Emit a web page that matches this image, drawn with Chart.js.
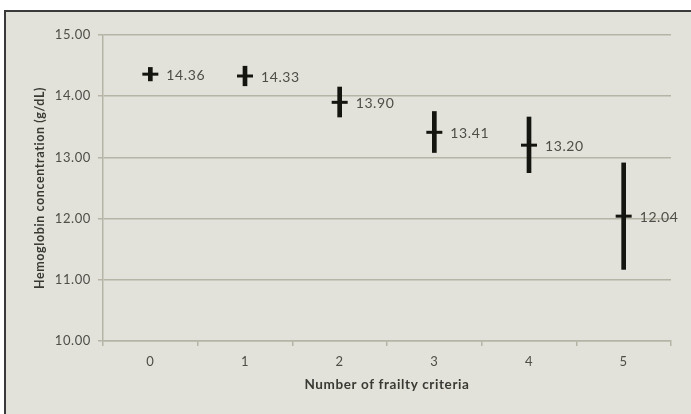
<!DOCTYPE html>
<html>
<head>
<meta charset="utf-8">
<script src="https://cdn.jsdelivr.net/npm/chart.js@4/dist/chart.umd.min.js"></script>
<style>
  html, body { margin: 0; padding: 0; background: #ffffff; }
  #frame { position: absolute; left: 4px; top: 10px; width: 687px; height: 404px;
           background: #e2e2da; border-left: 2px solid #3a3a3a; border-top: 2px solid #3a3a3a; box-sizing: border-box; }
  #wrap { position: absolute; left: 0; top: 0; width: 691px; height: 414px; }
</style>
</head>
<body>
<div id="frame"></div>
<div id="wrap"><canvas id="c" width="691" height="414"></canvas></div>
<script>
const categories = ["0", "1", "2", "3", "4", "5"];
const means = [14.36, 14.33, 13.90, 13.41, 13.20, 12.04];
const lowerBounds = [14.25, 14.17, 13.66, 13.08, 12.75, 11.17];
const upperBounds = [14.47, 14.49, 14.15, 13.75, 13.66, 12.91];
const yTicks = [10, 11, 12, 13, 14, 15];

const FONT = "Lato, 'Open Sans', 'DejaVu Sans', sans-serif";
const GRID = '#b5b4a6';
const TEXT = '#4e4e49';

const spacing = {
  id: 'spacing',
  beforeDraw(chart) { chart.ctx.letterSpacing = '0.6px'; }
};

const valueLabels = {
  id: 'valueLabels',
  afterDatasetsDraw(chart) {
    const meta = chart.getDatasetMeta(1);
    const ctx = chart.ctx;
    ctx.save();
    ctx.letterSpacing = '0.6px';
    ctx.font = "14px " + FONT;
    ctx.fillStyle = TEXT;
    ctx.textAlign = 'left';
    ctx.textBaseline = 'middle';
    meta.data.forEach((pt, i) => {
      ctx.fillText(means[i].toFixed(2), pt.x + 16, pt.y + 1.5);
    });
    ctx.restore();
  }
};

new Chart(document.getElementById('c'), {
  type: 'bar',
  data: {
    labels: categories,
    datasets: [
      {
        type: 'bar',
        data: categories.map((c, i) => [lowerBounds[i], upperBounds[i]]),
        backgroundColor: '#151510',
        borderWidth: 0,
        barThickness: 4,
        order: 2
      },
      {
        type: 'line',
        data: means,
        showLine: false,
        pointStyle: 'line',
        pointRadius: 8,
        pointBorderWidth: 3,
        borderColor: '#151510',
        backgroundColor: '#151510',
        order: 1
      }
    ]
  },
  options: {
    responsive: false,
    animation: false,
    events: [],
    layout: { padding: { left: 32, right: 20, top: 35, bottom: 21 } },
    plugins: { legend: { display: false }, tooltip: { enabled: false } },
    scales: {
      x: {
        offset: true,
        grid: { offset: true, drawOnChartArea: false, drawTicks: true, tickLength: 5, color: GRID, lineWidth: 1.5 },
        border: { color: GRID, width: 1.5 },
        ticks: { color: TEXT, font: { family: FONT, size: 13 }, padding: 8 },
        title: { display: true, text: 'Number of frailty criteria', color: '#3a3a35',
                 font: { family: FONT, size: 13.5, weight: 'bold' }, padding: 0 },
        afterFit(scale) { scale.height = 52; }
      },
      y: {
        min: 10, max: 15,
        afterBuildTicks(scale) { scale.ticks = yTicks.map(v => ({ value: v })); },
        grid: { color: GRID, lineWidth: 1.5, tickLength: 5 },
        border: { color: GRID, width: 1.5 },
        ticks: { color: TEXT, font: { family: FONT, size: 13 }, padding: 7,
                 callback: v => Number(v).toFixed(2) },
        title: { display: true, text: 'Hemoglobin concentration (g/dL)', color: '#3a3a35',
                 font: { family: FONT, size: 12.5, weight: 'bold' }, padding: 0 },
        afterFit(scale) { scale.width = 71; }
      }
    }
  },
  plugins: [spacing, valueLabels]
});
</script>
</body>
</html>
